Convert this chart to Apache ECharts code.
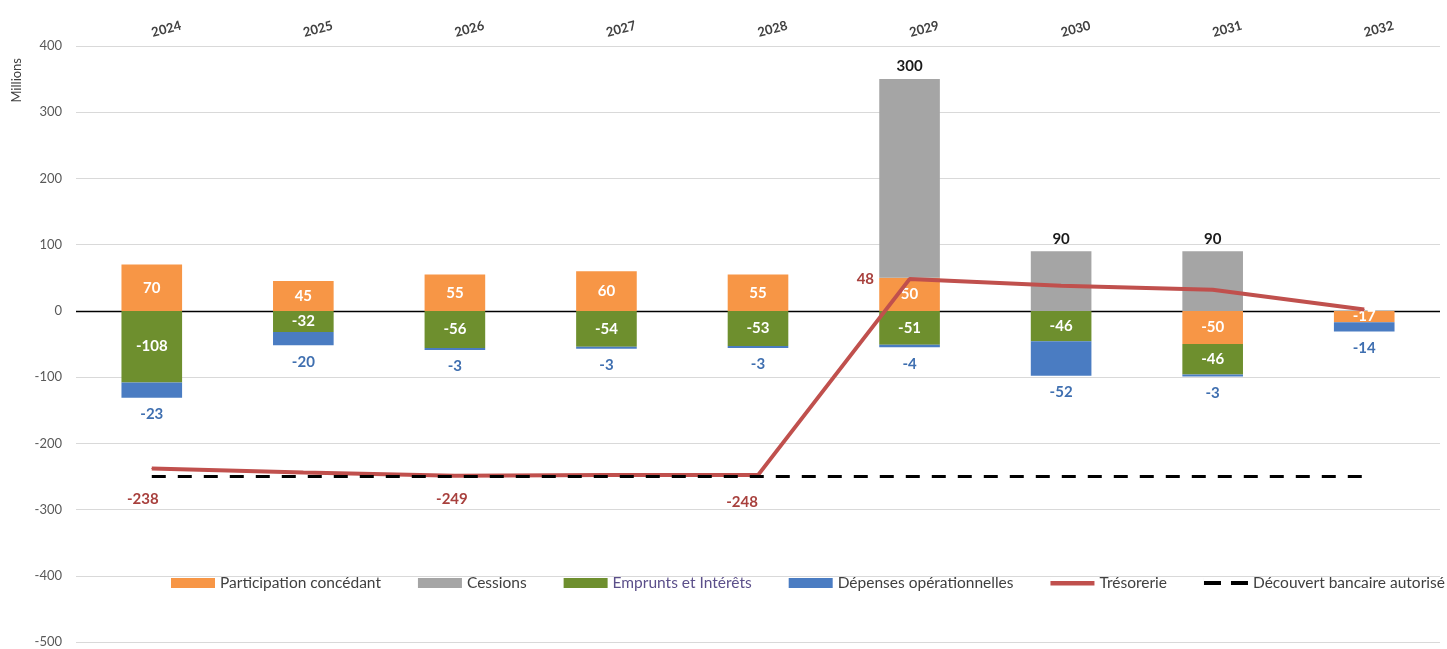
<!DOCTYPE html>
<html>
<head>
<meta charset="utf-8">
<script src="https://cdn.jsdelivr.net/npm/echarts@6/dist/echarts.min.js"></script>
<style>html,body{margin:0;padding:0;background:#fff}#c{width:1447px;height:649px}</style>
</head>
<body>
<div id="c"></div>
<script>
var categories = ['2024','2025','2026','2027','2028','2029','2030','2031','2032'];
var participation = [70, 45, 55, 60, 55, 50, null, -50, -17];
var cessions = [null, null, null, null, null, 300, 90, 90, null];
var emprunts = [-108, -32, -56, -54, -53, -51, -46, -46, null];
var depenses = [-23, -20, -3, -3, -3, -4, -52, -3, -14];
var tresorerie = [-238, -244, -249, -248, -248, 48, 38, 32, 2];
var decouvert = [-250, -250, -250, -250, -250, -250, -250, -250, -250];
var yTicks = {min: -500, max: 400, interval: 100};

var FONT = 'Lato';
// which treasury points carry a label, and how they are placed
var tresoLabelStyle = {
  0: {position: 'bottom', offset: [-9, 18]},
  2: {position: 'bottom', offset: [-3, 10]},
  4: {position: 'bottom', offset: [-16, 14]},
  5: {position: 'left', offset: [-30, 0]}
};

var tresoData = tresorerie.map(function (v, i) {
  var s = tresoLabelStyle[i];
  if (!s) return v;
  return {value: v, label: {show: true, position: s.position, offset: s.offset}};
});

var chart = echarts.init(document.getElementById('c'), null, {renderer: 'canvas'});
var whiteLabel = {show: true, position: 'inside', color: '#fff', fontWeight: 'bold', fontSize: 15, fontFamily: FONT,
  formatter: function (p) { return p.value == null ? '' : p.value; }};

chart.setOption({
  animation: false,
  backgroundColor: '#fff',
  textStyle: {fontFamily: FONT},
  grid: {left: 76, right: 7, top: 46, bottom: 7, containLabel: false},
  graphic: [{
    type: 'text', left: 10, top: 58, rotation: Math.PI / 2,
    style: {text: 'Millions', fill: '#404040', font: '13px ' + FONT}
  }],
  legend: {
    left: 166, top: 570, width: 1281, itemWidth: 44, itemHeight: 10, itemGap: 37,
    textStyle: {fontSize: 15.5, color: '#404040', fontFamily: FONT},
    data: [
      {name: 'Participation concédant', icon: 'rect'},
      {name: 'Cessions', icon: 'rect'},
      {name: 'Emprunts et Intérêts', icon: 'rect', textStyle: {color: '#5b4f8a'}},
      {name: 'Dépenses opérationnelles', icon: 'rect'},
      {name: 'Trésorerie', icon: 'path://M0,3h44v4.5h-44z M0,0h0.01v10h-0.01z'},
      {name: 'Découvert bancaire autorisé', icon: 'path://M0,3h17v4h-17z M27,3h17v4h-17z M0,0h0.01v10h-0.01z'}
    ]
  },
  xAxis: {
    type: 'category', data: categories, position: 'top',
    axisLine: {show: false, onZero: false}, axisTick: {show: false},
    axisLabel: {rotate: -15, margin: 13, color: '#404040', fontSize: 13, fontWeight: 'bold', fontFamily: FONT}
  },
  yAxis: {
    type: 'value', min: yTicks.min, max: yTicks.max, interval: yTicks.interval,
    axisLine: {show: false}, axisTick: {show: false},
    axisLabel: {color: '#595959', fontSize: 13, margin: 14, fontFamily: FONT},
    splitLine: {lineStyle: {color: '#d9d9d9', width: 1}}
  },
  series: [
    {name: 'Participation concédant', type: 'bar', stack: 'a', barWidth: '40%', data: participation,
      itemStyle: {color: '#F79646'}, label: whiteLabel,
      markLine: {silent: true, symbol: 'none', label: {show: false}, z: 1,
        lineStyle: {color: '#000', width: 1.3, type: 'solid'}, data: [{yAxis: 0}]}},
    {name: 'Cessions', type: 'bar', stack: 'a', data: cessions,
      itemStyle: {color: '#A5A5A5'},
      label: {show: true, position: 'top', distance: 5, color: '#1a1a1a', fontWeight: 'bold', fontSize: 15, fontFamily: FONT}},
    {name: 'Emprunts et Intérêts', type: 'bar', stack: 'a', data: emprunts,
      itemStyle: {color: '#6E8F2E'}, label: whiteLabel},
    {name: 'Dépenses opérationnelles', type: 'bar', stack: 'a', data: depenses,
      itemStyle: {color: '#4A7CC2'},
      label: {show: true, position: 'bottom', distance: 9, color: '#3f6fb0', fontWeight: 'bold', fontSize: 15, fontFamily: FONT}},
    {name: 'Trésorerie', type: 'line', data: tresoData, symbol: 'circle', symbolSize: 1, z: 5,
      lineStyle: {color: '#C0504D', width: 4}, itemStyle: {color: '#C0504D'},
      label: {show: false, color: '#a8403d', fontWeight: 'bold', fontSize: 15, fontFamily: FONT}},
    {name: 'Découvert bancaire autorisé', type: 'line', data: decouvert, symbol: 'none', z: 6,
      lineStyle: {color: '#000', width: 3, type: [14, 12]}, itemStyle: {color: '#000'}}
  ]
});
</script>
</body>
</html>
